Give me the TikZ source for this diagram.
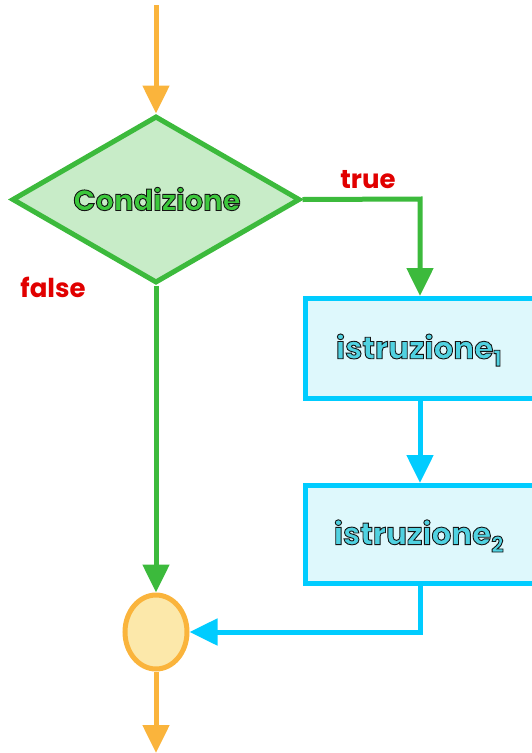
\documentclass[tikz,border=0pt]{standalone}
\usepackage{fontspec}
\setmainfont{Poppins}
\usetikzlibrary{arrows.meta,shapes.geometric}
\definecolor{orangeC}{RGB}{250,180,60}
\definecolor{greenC}{RGB}{60,186,60}
\definecolor{greenF}{RGB}{200,236,200}
\definecolor{greenT}{RGB}{60,200,60}
\definecolor{cyanC}{RGB}{0,204,255}
\definecolor{cyanF}{RGB}{222,248,252}
\definecolor{cyanT}{RGB}{80,210,225}
\definecolor{yelF}{RGB}{252,232,170}
\definecolor{redT}{RGB}{225,0,0}
\newcommand\outlinetext[1]{\special{pdf:literal 2 Tr 0.9 w 0.08 0.08 0.08 RG}#1\special{pdf:literal 0 Tr}}
\tikzset{
  conn/.style={line width=5pt,-{Triangle[width=26pt,length=28pt]}},
  lbl/.style={font=\bfseries\fontsize{26}{28}\selectfont,text=redT},
  big/.style={font=\bfseries\fontsize{29}{31}\selectfont},
  bigb/.style={font=\bfseries\fontsize{31}{33}\selectfont},
}
\begin{document}
\begin{tikzpicture}[x=1pt,y=-1pt]
\useasboundingbox (0,0) rectangle (532,753);
\clip (0,0) rectangle (532,753);
% diamond
\node[diamond,draw=greenC,fill=greenF,line width=5pt,minimum width=288pt,minimum height=167pt,inner sep=0pt,aspect=1.72] (cond) at (156,199.5) {};
\node[big,text=greenT] (condtext) at (157,199) {\outlinetext{Condizione}};
% boxes
\node[draw=cyanC,fill=cyanF,line width=5pt,minimum width=240pt,minimum height=100pt,anchor=north west,inner sep=0pt] (box1) at (303,296) {};
\node[draw=cyanC,fill=cyanF,line width=5pt,minimum width=240pt,minimum height=98pt,anchor=north west,inner sep=0pt] (box2) at (303,483) {};
\node[bigb,text=cyanT] (t1) at (419,350) {\outlinetext{istruzione\textsubscript{1}}};
\node[bigb,text=cyanT] (t2) at (419,536) {\outlinetext{istruzione\textsubscript{2}}};
% join ellipse
\node[ellipse,draw=orangeC,fill=yelF,line width=5pt,minimum width=62pt,minimum height=74pt,inner sep=0pt] (join) at (156,632) {};
% labels
\node[lbl] (t) at (368,180) {true};
\node[lbl] (f) at (53,287) {false};
% coordinates
\coordinate (start) at (156,5);
\coordinate (end) at (156,753);
\coordinate (k1) at (420,199);
\coordinate (k2) at (420,632);
% connectors
\draw[conn,draw=orangeC] (start) -- (cond.north);
\draw[conn,draw=greenC] (cond.east) -- (k1) -- (k1 |- box1.north);
\draw[conn,draw=greenC] (cond.south) -- (join.north);
\draw[conn,draw=cyanC] (k1 |- box1.south) -- (k1 |- box2.north);
\draw[conn,draw=cyanC] (k1 |- box2.south) -- (k2) -- (join.east);
\draw[conn,draw=orangeC] (join.south) -- (end);
\end{tikzpicture}
\end{document}
